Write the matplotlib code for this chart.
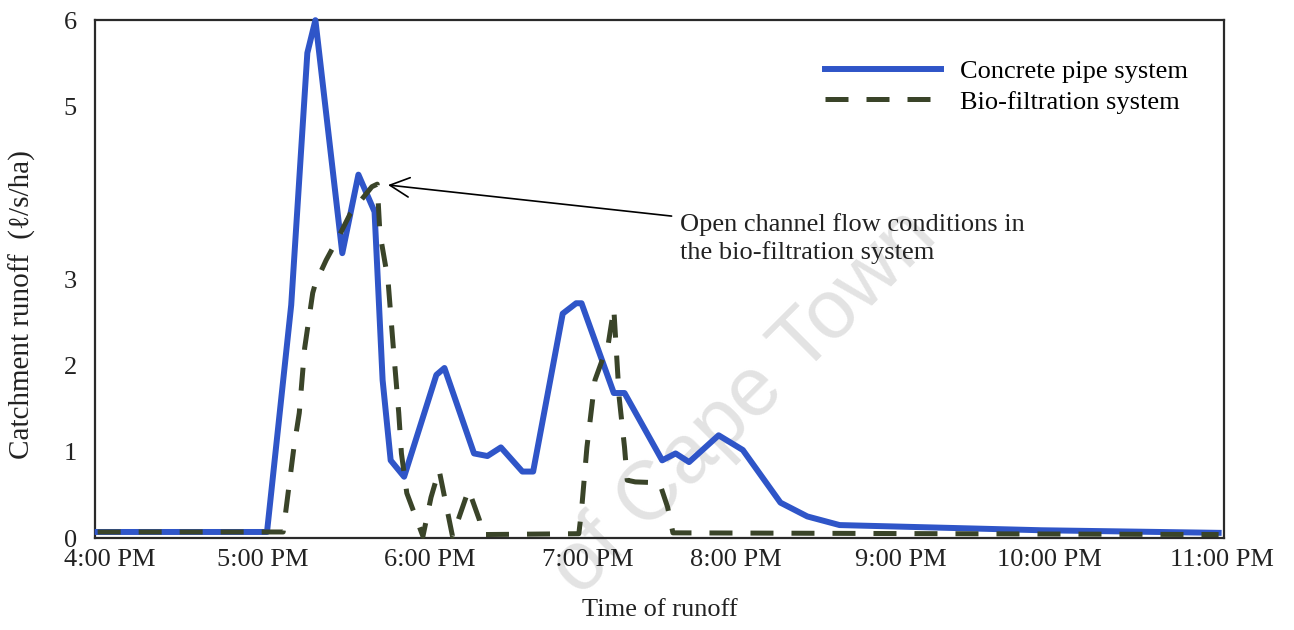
import matplotlib
matplotlib.use("Agg")
import matplotlib.pyplot as plt
from matplotlib.transforms import ScaledTranslation

# Time axis: minutes after 4:00 PM, labelled every hour
hour_labels = ["4:00 PM", "5:00 PM", "6:00 PM", "7:00 PM",
               "8:00 PM", "9:00 PM", "10:00 PM", "11:00 PM"]
hour_positions = [0, 60, 120, 180, 240, 300, 360, 420]

# Concrete pipe system runoff (l/s/ha)
pipe_minutes = [1, 64, 73, 79, 82, 92, 98, 104, 107, 110, 115, 127, 130,
                141, 146, 151, 159, 163, 174, 179, 181, 193, 197, 211, 216,
                221, 232, 241, 255, 265, 277, 352, 418]
pipe_runoff = [0.07, 0.07, 2.70, 5.62, 6.00, 3.30, 4.21, 3.78, 1.83, 0.90,
               0.71, 1.89, 1.97, 0.98, 0.95, 1.05, 0.77, 0.77, 2.60, 2.72,
               2.72, 1.68, 1.68, 0.90, 0.98, 0.88, 1.19, 1.02, 0.41, 0.25,
               0.15, 0.09, 0.06]

# Bio-filtration system runoff (l/s/ha)
bio_minutes = [1, 70, 74, 76, 78, 81, 82, 86, 90, 95, 103, 105, 106, 109,
               111, 113, 114, 116, 122, 125, 128, 133, 139, 143, 144, 180,
               181, 183, 186, 191, 193, 195, 197, 198, 201, 210, 213, 215,
               418]
bio_runoff = [0.07, 0.07, 1.05, 1.45, 2.20, 2.84, 2.95, 3.22, 3.45, 3.76,
              4.07, 4.10, 3.53, 2.99, 2.20, 1.45, 0.98, 0.52, 0.02, 0.47,
              0.79, 0.02, 0.56, 0.21, 0.04, 0.05, 0.32, 1.05, 1.83, 2.26,
              2.66, 1.63, 1.05, 0.67, 0.65, 0.64, 0.36, 0.06, 0.04]

y_ticks = [0, 1, 2, 3, 5, 6]

plt.rcParams["font.family"] = ["Liberation Serif", "DejaVu Serif"]

fig = plt.figure(figsize=(12.94, 6.30), dpi=100)
ax = fig.add_axes([0.0734, 0.146, 0.8725, 0.822])

# Faint watermark behind the data
ax.text(0.575, 0.36, "of Cape Town", transform=fig.transFigure,
        rotation=45, fontsize=60, color="#e3e3e3", family="Liberation Sans",
        ha="center", va="center", zorder=0, clip_on=False)

ax.plot(pipe_minutes, pipe_runoff, color="#2f55c8", lw=4.3,
        clip_on=False, zorder=3, label="Concrete pipe system")
ax.plot(bio_minutes, bio_runoff, color="#3a4429", lw=3.6,
        dashes=(4.6, 3.6), clip_on=False, zorder=4,
        label="Bio-filtration system")

ax.set_xlim(0, 420)
ax.set_ylim(0, 6)
ax.set_xticks(hour_positions)
ax.set_xticklabels(hour_labels)
ax.set_yticks(y_ticks)
ax.set_yticklabels([str(v) for v in y_ticks])
ax.tick_params(axis="both", length=0, labelsize=19, colors="#222222")
ax.tick_params(axis="x", pad=8)
ax.tick_params(axis="y", pad=13)

# Small horizontal nudges of the hour labels (pixels)
label_nudges = [15, 6, 12, 9, -4, -1, -13, -2]
for lab, dx in zip(ax.get_xticklabels(), label_nudges):
    lab.set_transform(lab.get_transform() +
                      ScaledTranslation(dx / 100, 0, fig.dpi_scale_trans))

for side in ax.spines.values():
    side.set_linewidth(1.6)
    side.set_color("#2a2a2a")

ax.set_xlabel("Time of runoff", fontsize=19, color="#222222", labelpad=20)
ax.set_ylabel("Catchment runoff  (\u2113/s/ha)", fontsize=21,
              color="#222222")
ax.yaxis.set_label_coords(-0.052, 0.45)

ax.legend(loc="upper left", bbox_to_anchor=(825 / 1294, 1 - 60 / 630),
          bbox_transform=fig.transFigure, frameon=False, fontsize=19,
          handlelength=4.4, handletextpad=0.7, labelspacing=0.25,
          borderpad=0, borderaxespad=0)

# Callout for the open-channel flow peak
ax.annotate("", xy=(109, 4.09), xytext=(214.5, 3.73),
            arrowprops=dict(arrowstyle="->,head_length=0.7,head_width=0.35",
                            lw=1.2, color="black", mutation_scale=20,
                            shrinkA=0, shrinkB=0))
ax.text(217.5, 3.76, "Open channel flow conditions in\nthe bio-filtration system",
        fontsize=19, color="#222222", ha="left", va="top", linespacing=1.28)

fig.savefig("out.png", dpi=100)
